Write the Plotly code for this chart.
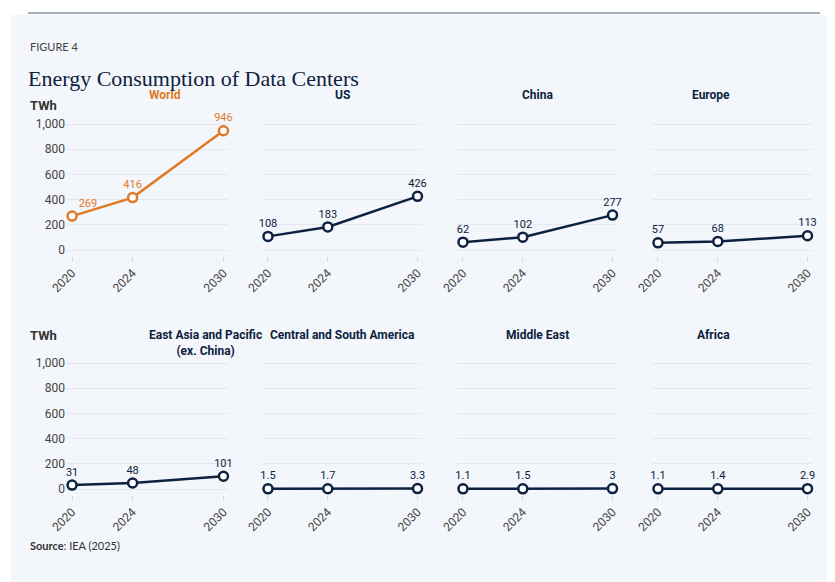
import plotly.graph_objects as go

years = [2020, 2024, 2030]
regions = ["World", "US", "China", "Europe",
           "East Asia and Pacific<br>(ex. China)", "Central and South America", "Middle East", "Africa"]
world = [269, 416, 946]
us = [108, 183, 426]
china = [62, 102, 277]
europe = [57, 68, 113]
east_asia = [31, 48, 101]
csa = [1.5, 1.7, 3.3]
middle_east = [1.1, 1.5, 3]
africa = [1.1, 1.4, 2.9]
series = [world, us, china, europe, east_asia, csa, middle_east, africa]
y_ticks = [0, 200, 400, 600, 800, 1000]

W, H = 835, 582
NAVY = "#0d2240"
ORANGE = "#e07a27"
FONT = "Roboto"

fig = go.Figure()
x_px = [(58, 220), (254, 414), (449, 609), (644, 804)]
y_px = [(109.7, 248.3), (348.7, 487.3)]

for i, (name, vals) in enumerate(zip(regions, series)):
    r, c = divmod(i, 4)
    n = i + 1
    ax = "" if n == 1 else str(n)
    col = ORANGE if i == 0 else NAVY
    labels = [f"{v:,}" if isinstance(v, int) else f"{v:g}" for v in vals]
    pos = ["top right", "top center", "top center"] if i == 0 else "top center"
    fig.add_trace(go.Scatter(
        x=years, y=vals, mode="lines+markers+text", text=labels,
        textposition=pos, textfont=dict(family=FONT, size=11, color=col),
        line=dict(color=col, width=2.5),
        marker=dict(size=9, color="white", line=dict(color=col, width=2.5)),
        xaxis="x" + ax, yaxis="y" + ax, showlegend=False, cliponaxis=False))
    x0, x1 = x_px[c]
    t, b = y_px[r]
    fig.update_layout(**{
        "xaxis" + ax: dict(domain=[x0 / W, x1 / W], range=[2019.6, 2030.3], tickvals=years,
                           ticktext=[str(y) for y in years], tickangle=-45, showgrid=False,
                           zeroline=False, ticks="outside", ticklen=4, tickcolor="#d5d9df",
                           tickfont=dict(family=FONT, size=12, color="#444"),
                           anchor="y" + ax, automargin=False),
        "yaxis" + ax: dict(domain=[1 - b / H, 1 - t / H], range=[-50, 1050], tickvals=y_ticks,
                           showticklabels=(c == 0), tickformat=",", gridcolor="#e4e7eb",
                           zeroline=False, tickfont=dict(family=FONT, size=12, color="#444"),
                           anchor="x" + ax, automargin=False),
    })
    ty = 87 if r == 0 else 318
    fig.add_annotation(x=(x0 + x1) / 2 / W, y=1 - ty / H, xref="paper", yref="paper",
                       text=f"<b>{name}</b>", showarrow=False, yanchor="middle" if r == 0 else "top",
                       font=dict(family=FONT, size=12, color=col))

for yy in [88, 327]:
    fig.add_annotation(x=20 / W, y=1 - yy / H, xref="paper", yref="paper", text="<b>TWh</b>",
                       showarrow=False, xanchor="left", font=dict(family=FONT, size=13, color="#333"))
fig.add_annotation(x=20 / W, y=1 - 30 / H, xref="paper", yref="paper", text="FIGURE 4",
                   showarrow=False, xanchor="left", font=dict(family="Lato", size=11, color="#444"))
fig.add_annotation(x=18 / W, y=1 - 56 / H, xref="paper", yref="paper", text="Energy Consumption of Data Centers",
                   showarrow=False, xanchor="left", font=dict(family="Liberation Serif", size=22, color=NAVY))
fig.add_annotation(x=20 / W, y=1 - 546 / H, xref="paper", yref="paper", text="<b>Source</b>: IEA (2025)",
                   showarrow=False, xanchor="left", font=dict(family="Lato", size=11, color="#333"))

fig.add_shape(type="rect", xref="paper", yref="paper", x0=3 / W, x1=832 / W, y0=1 - 577 / H, y1=1 - 7 / H,
              fillcolor="#f3f6fa", line_width=0, layer="below")
fig.add_shape(type="line", xref="paper", yref="paper", x0=20 / W, x1=812 / W, y0=1 - 5 / H, y1=1 - 5 / H,
              line=dict(color="#8a94a6", width=1.5))

fig.update_layout(width=W, height=H, margin=dict(l=0, r=0, t=0, b=0, autoexpand=False),
                  paper_bgcolor="white", plot_bgcolor="rgba(0,0,0,0)")
fig.write_html("out.html")
